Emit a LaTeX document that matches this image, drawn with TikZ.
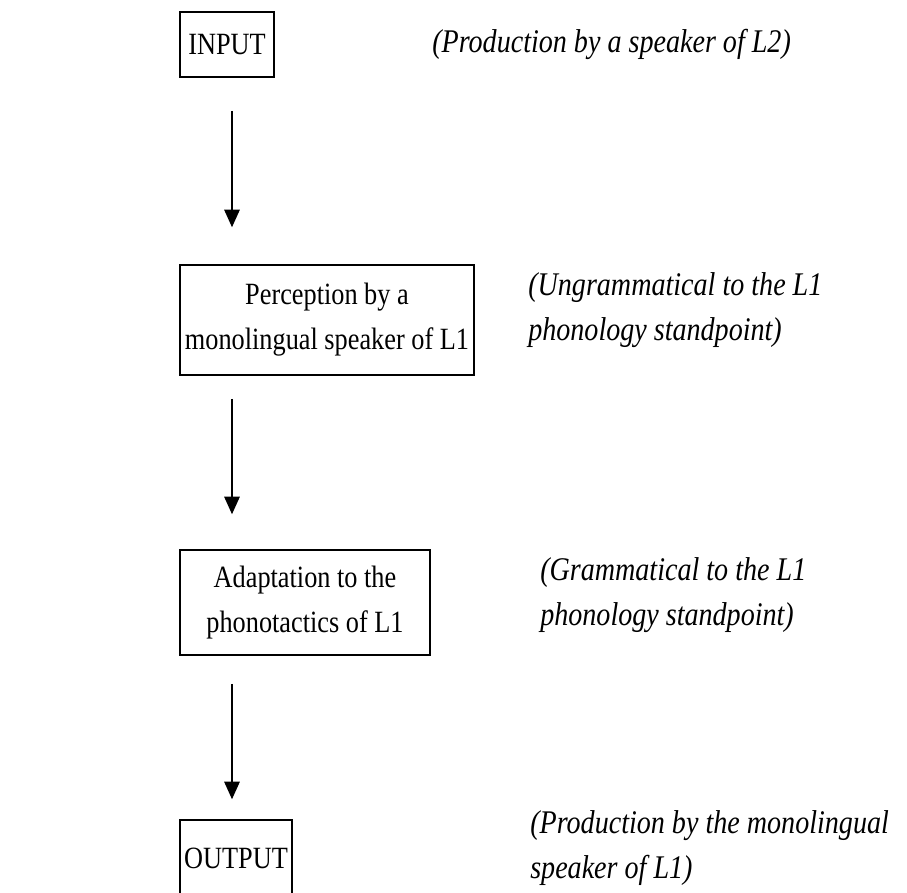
\documentclass[tikz,border=0pt]{standalone}
\usepackage{fontspec}
\setmainfont{Liberation Serif}[FakeStretch=0.85]
\usetikzlibrary{arrows.meta}

\tikzset{
  stage/.style={draw, line width=1.05pt, align=center, inner sep=0pt,
    font=\fontsize{22}{32}\selectfont},
  remark/.style={anchor=base west, align=left, inner sep=0pt,
    font=\fontsize{23.5}{31.5}\selectfont\itshape},
  flow/.style={line width=1.05pt, -{Triangle[length=12.5pt, width=11pt]}}
}

\begin{document}
\begin{tikzpicture}[x=0.025cm, y=-0.025cm]
  %%%%% START %%%%%
  \useasboundingbox (0,0) rectangle (907,893);
  \clip (0,0) rectangle (907,893);

  \node[stage, minimum width=2.35cm, minimum height=1.625cm] (input) at (227, 44.5) {INPUT};
  \node[stage, minimum width=7.35cm, minimum height=2.75cm] (percep) at (327, 320) {Perception by a\\monolingual speaker of L1};
  \node[stage, minimum width=6.25cm, minimum height=2.625cm] (adapt) at (305, 602.5) {Adaptation to the\\phonotactics of L1};
  \node[stage, minimum width=2.8cm, minimum height=1.9cm] (output) at (236, 858) {OUTPUT};

  \coordinate (ax) at (232, 0);
  \draw[flow, shorten <=0.825cm, shorten >=0.925cm] (input.south -| ax) -- (percep.north -| ax);
  \draw[flow, shorten <=0.575cm, shorten >=0.875cm] (percep.south -| ax) -- (adapt.north -| ax);
  \draw[flow, shorten <=0.7cm, shorten >=0.5cm] (adapt.south -| ax) -- (output.north -| ax);

  \node[remark] (nin) at (432, 53) {(Production by a speaker of L2)};
  \node[remark] (nper) at (528, 340) {(Ungrammatical to the L1\\phonology standpoint)};
  \node[remark] (nada) at (540, 625) {(Grammatical to the L1\\phonology standpoint)};
  \node[remark] (nout) at (530, 878) {(Production by the monolingual\\speaker of L1)};
  %%%%% END %%%%%
\end{tikzpicture}
\end{document}
